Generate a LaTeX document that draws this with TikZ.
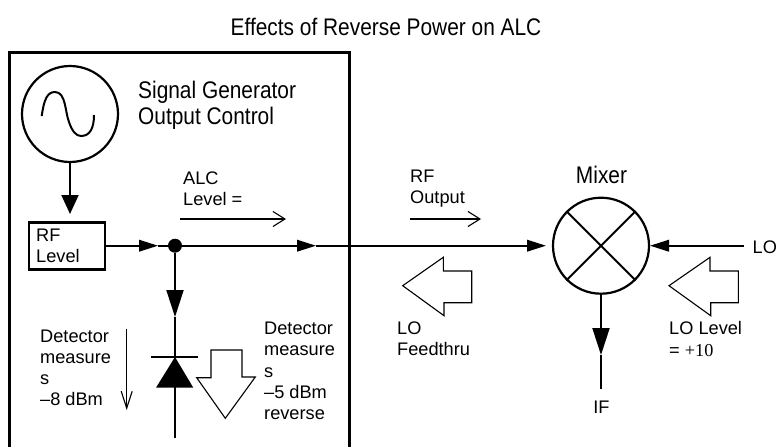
\documentclass[tikz,border=0pt]{standalone}
\usepackage{fontspec}
\setmainfont{Liberation Sans}
\newfontfamily\narrowfont[FakeStretch=0.87]{Liberation Sans}
\newfontfamily\numfont{Liberation Serif}
\usetikzlibrary{arrows.meta}

\begin{document}
\begin{tikzpicture}[x=1pt,y=-1pt,line cap=butt,line join=miter,
  wire/.style={line width=2pt},
  thick tip/.style={-{Triangle[length=27pt,width=17pt]}},
  short tip/.style={-{Triangle[length=19pt,width=17pt]}},
  wide tip/.style={-{Triangle[length=19pt,width=11.5pt]}},
  thin arrow/.style={line width=1.1pt,-{Straight Barb[length=12pt,width=15pt,line width=1.1pt]}},
  hollow/.style={line width=1.1pt,fill=white},
  label/.style={anchor=west,align=left,inner sep=0pt,font=\fontsize{18.2}{21.2}\selectfont},
  heading/.style={inner sep=0pt,font=\fontsize{24}{26}\narrowfont}]
\useasboundingbox (0,0) rectangle (776,447);
\fill[white] (0,0) rectangle (776,447);
\node[heading] (title) at (386,27) {Effects of Reverse Power on ALC};
\draw[line width=3pt] (9.3,447) -- (9.3,52.7) -- (349,52.7) -- (349,447);
\node[heading,anchor=west,align=left] (sgen) at (138,105) {Signal Generator\\Output Control};
\node[draw,circle,line width=2.2pt,minimum size=96pt,inner sep=0pt] (src) at (70,114) {};
\draw[line width=2pt] (41.7,116) .. controls (44,100) and (47,92) .. (55,92) .. controls (66,92) and (65,112) .. (69,122) .. controls (72,131) and (76,136) .. (81,136) .. controls (90,136) and (94,128) .. (94,115);
\node[draw,line width=2.6pt,minimum width=76pt,minimum height=47pt,inner sep=0pt] (rf) at (67,245.7) {};
\node[label] (rflabel) at (36,246) {RF\\Level};
\coordinate (srcend) at (70,214);
\draw[wire] (src.south) -- (70,197);
\draw[wire,short tip] (70,195) -- (srcend);
\node[fill,circle,minimum size=14pt,inner sep=0pt] (dot) at (175,245.7) {};
\coordinate (tipa) at (158,245.7);
\coordinate (tipb) at (316,245.7);
\coordinate (tipc) at (546,245.7);
\node[draw,circle,line width=2.2pt,minimum size=96pt,inner sep=0pt] (mixer) at (601,245.7) {};
\draw[line width=2pt] (mixer.north west) -- (mixer.south east);
\draw[line width=2pt] (mixer.north east) -- (mixer.south west);
\node[heading] (mixerlabel) at (601.5,175) {Mixer};
\draw[wire,wide tip] (rf.east) -- (tipa);
\draw[wire] (tipa) -- (dot);
\draw[wire,wide tip] (dot) -- (tipb);
\draw[wire] (tipb) -- (530,245.7);
\draw[wire,wide tip] (528,245.7) -- (tipc);
% detector branch
\coordinate (tipd) at (175,317);
\draw[wire,thick tip] (dot) -- (tipd);
\coordinate (diodetop) at (175,357);
\coordinate (diodelow) at (175,438);
\draw[wire] (tipd) -- (diodetop);
\draw[wire] (diodetop) -- (diodelow);
\draw[wire] (151,356.7) -- (198,356.7);
\fill (diodetop) -- (193.3,387.7) -- (156,387.7) -- cycle;
\draw[thin arrow,-{Straight Barb[length=17pt,width=11pt,line width=1.1pt]}] (126.7,329) -- (126.7,410);
\draw[hollow] (211,350) -- (242,350) -- (242,377) -- (255.3,377) -- (225.3,418.3) -- (196.7,377.7) -- (211,377.7) -- cycle;
\node[label] (detleft) at (40,368) {Detector\\measure\\s\\--8 dBm};
\node[label] (detright) at (264,371) {Detector\\measure\\s\\--5 dBm\\reverse};
\node[label] (alc) at (183,189) {ALC\\Level =};
\draw[thin arrow] (180,219) -- (286,219);
\node[label] (rfout) at (410,189) {RF\\Output};
\draw[thin arrow] (410,219) -- (481,219);
% local oscillator side
\node[label] (lo) at (752.5,247) {LO};
\coordinate (loend) at (744,245.7);
\coordinate (tipe) at (650,245.7);
\draw[wire] (loend) -- (667,245.7);
\draw[wire,wide tip] (669,245.7) -- (tipe);
\draw[hollow] (402.7,285.7) -- (443.3,257.3) -- (443.3,271) -- (471.7,271) -- (471.7,302.7) -- (444,302.7) -- (444,315.7) -- cycle;
\draw[hollow] (669,285.7) -- (710,257.3) -- (710,271) -- (738.3,271) -- (738.3,302.7) -- (710.7,302.7) -- (710.7,315.7) -- cycle;
\node[label] (feed) at (397,339) {LO\\Feedthru};
\node[label] (lolevel) at (669,339) {LO Level\\= {\numfont +10}};
% mixer output
\coordinate (tipf) at (601,355);
\coordinate (ifend) at (601,389);
\draw[wire,thick tip] (mixer.south) -- (tipf);
\draw[wire] (tipf) -- (ifend);
\node[label,anchor=center] (iflabel) at (601.5,407) {IF};
\end{tikzpicture}
\end{document}
